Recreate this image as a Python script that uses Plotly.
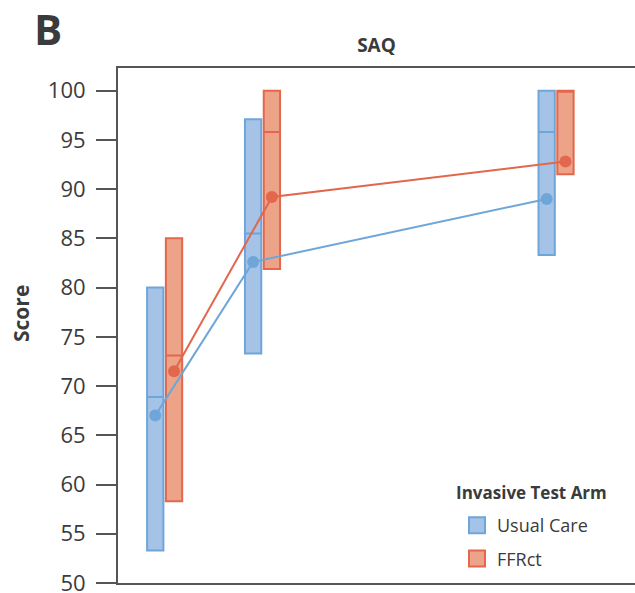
import plotly.graph_objects as go

# Data
months = [0, 3, 12]
uc_q1 = [53.3, 73.3, 83.3]
uc_median = [68.9, 85.5, 95.8]
uc_q3 = [80.0, 97.1, 100.0]
uc_mean = [67.0, 82.6, 89.0]

ff_q1 = [58.3, 81.9, 91.5]
ff_median = [73.1, 95.8, 100.0]
ff_q3 = [85.0, 100.0, 100.0]
ff_mean = [71.5, 89.2, 92.8]

y_ticks = [50, 55, 60, 65, 70, 75, 80, 85, 90, 95, 100]

# Styles
UC_FILL = "#a5c3e6"
UC_LINE = "#6fa6da"
FF_FILL = "#eca387"
FF_LINE = "#e2674d"
TXT = "#3b3b3b"
FONT = "Open Sans"
DODGE = 0.288
BOXW = 0.5

W, H = 635, 593
ML, MR, MT, MB = 118, 0, 68, 10
PW, PH = W - ML - MR, H - MT - MB

def px_x(px):
    return (px - ML) / PW

def px_y(py):
    return (H - MB - py) / PH

uc_x = [m - DODGE for m in months]
ff_x = [m + DODGE for m in months]

fig = go.Figure()

for name, xs, q1, med, q3, mean, fill, line in [
    ("Usual Care", uc_x, uc_q1, uc_median, uc_q3, uc_mean, UC_FILL, UC_LINE),
    ("FFRct", ff_x, ff_q1, ff_median, ff_q3, ff_mean, FF_FILL, FF_LINE),
]:
    fig.add_trace(go.Box(
        x=xs, q1=q1, median=med, q3=q3, lowerfence=q1, upperfence=q3,
        width=BOXW, fillcolor=fill, line=dict(color=line, width=2),
        whiskerwidth=0, boxpoints=False, showlegend=False, name=name,
    ))
    fig.add_trace(go.Scatter(
        x=xs, y=mean, mode="lines+markers",
        line=dict(color=line, width=2),
        marker=dict(color=line, size=12),
        showlegend=False, name=name,
    ))
    fig.add_trace(go.Scatter(
        x=[None], y=[None], mode="markers", name=name,
        marker=dict(symbol="square", size=16, color=fill,
                    line=dict(color=line, width=2)),
        legendgroup=name, showlegend=True,
    ))

fig.update_layout(
    width=W, height=H,
    margin=dict(l=ML, r=MR, t=MT, b=MB, autoexpand=False),
    paper_bgcolor="white", plot_bgcolor="white",
    font=dict(family=FONT, color=TXT, size=18),
    boxmode="overlay",
    title=dict(text="<b>SAQ</b>", x=0.5, xref="paper", xanchor="center",
               y=1 - 45 / H, yref="container", yanchor="middle",
               font=dict(size=19, color=TXT, family=FONT)),
    showlegend=True,
    legend=dict(
        x=px_x(457), xanchor="left", y=px_y(507), yanchor="top",
        bgcolor="rgba(0,0,0,0)", font=dict(size=18, color=TXT),
        traceorder="grouped", tracegroupgap=7,
    ),
    annotations=[
        dict(text="<b>B</b>", xref="paper", yref="paper",
             x=px_x(48), y=px_y(28), xanchor="center", yanchor="middle",
             showarrow=False, font=dict(size=42, color=TXT, family=FONT)),
        dict(text="<b>Score</b>", xref="paper", yref="paper",
             x=px_x(21), y=px_y(314), xanchor="center", yanchor="middle",
             textangle=-90, showarrow=False,
             font=dict(size=21, color=TXT, family=FONT)),
        dict(text="<b>Invasive Test Arm</b>", xref="paper", yref="paper",
             x=px_x(454), y=px_y(492), xanchor="left", yanchor="middle",
             showarrow=False, font=dict(size=17, color=TXT, family=FONT)),
    ],
)

fig.update_xaxes(
    range=[-1.43, 14.42], showticklabels=False, ticks="",
    showline=True, linecolor="#555555", linewidth=2, mirror=True,
    showgrid=False, zeroline=False, automargin=False,
)
fig.update_yaxes(
    range=[50, 102.3], tickvals=y_ticks, ticks="outside", ticklen=20,
    tickwidth=2, tickcolor="#555555", ticklabelstandoff=6,
    ticklabeloverflow="allow",
    showline=True, linecolor="#555555", linewidth=2,
    showgrid=False, zeroline=False, automargin=False,
    tickfont=dict(size=22, color=TXT),
)

fig.write_html("out.html", config={"displayModeBar": False},
               post_script="document.body.style.margin='0';")
